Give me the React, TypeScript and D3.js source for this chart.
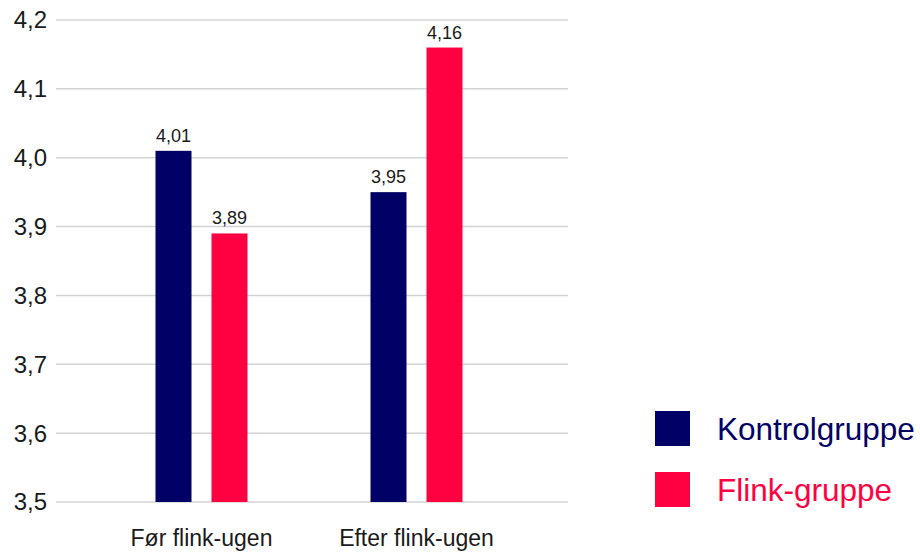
import React from "react";
import * as d3 from "d3";

const categories = ["Før flink-ugen", "Efter flink-ugen"];
const seriesNames = ["Kontrolgruppe", "Flink-gruppe"];
const kontrolValues = [4.01, 3.95];
const flinkValues = [3.89, 4.16];
const yTicks = [3.5, 3.6, 3.7, 3.8, 3.9, 4.0, 4.1, 4.2];
const colors = ["#000066", "#ff0040"];

const W = 920;
const H = 554;
const FONT = "'Liberation Sans', Arial, sans-serif";
const fmt = (v: number, d: number) => v.toFixed(d).replace(".", ",");

export default function App() {
  const y = d3.scaleLinear().domain([3.5, 4.2]).range([502, 20]);
  const x = d3.scaleBand<string>().domain(categories).range([94, 524]).padding(0);
  const inner = d3
    .scaleBand<string>()
    .domain(seriesNames)
    .range([0, 92])
    .paddingInner(0.357)
    .paddingOuter(0);

  const rows = categories.map((c, i) => ({
    category: c,
    values: [kontrolValues[i], flinkValues[i]],
  }));

  return (
    <svg
      width={W}
      height={H}
      style={{ position: "absolute", left: 0, top: 0, background: "#fff" }}
      fontFamily={FONT}
    >
      {yTicks.map((t) => (
        <g key={t}>
          <line x1={56} x2={568} y1={y(t)} y2={y(t)} stroke="#d3d3d3" strokeWidth={1.5} />
          <text x={47} y={y(t)} dy="0.35em" textAnchor="end" fontSize={24} fill="#1a1a1a">
            {fmt(t, 1)}
          </text>
        </g>
      ))}
      {rows.map((r) => {
        const gx = (x(r.category) ?? 0) + x.bandwidth() / 2 - 46;
        return (
          <g key={r.category}>
            {r.values.map((v, j) => {
              const bx = gx + (inner(seriesNames[j]) ?? 0);
              return (
                <g key={j}>
                  <rect
                    x={bx}
                    y={y(v)}
                    width={inner.bandwidth()}
                    height={y(3.5) - y(v)}
                    fill={colors[j]}
                  />
                  <text
                    x={bx + inner.bandwidth() / 2}
                    y={y(v) - 9}
                    textAnchor="middle"
                    fontSize={18}
                    fill="#1a1a1a"
                  >
                    {fmt(v, 2)}
                  </text>
                </g>
              );
            })}
            <text
              x={(x(r.category) ?? 0) + x.bandwidth() / 2}
              y={546}
              textAnchor="middle"
              fontSize={23}
              fill="#1a1a1a"
            >
              {r.category}
            </text>
          </g>
        );
      })}
      {seriesNames.map((s, i) => (
        <g key={s} transform={`translate(655, ${411 + i * 61})`}>
          <rect width={35} height={35} fill={colors[i]} />
          <text x={62} y={17.5} dy="0.35em" fontSize={31.5} fill={colors[i]}>
            {s}
          </text>
        </g>
      ))}
    </svg>
  );
}
